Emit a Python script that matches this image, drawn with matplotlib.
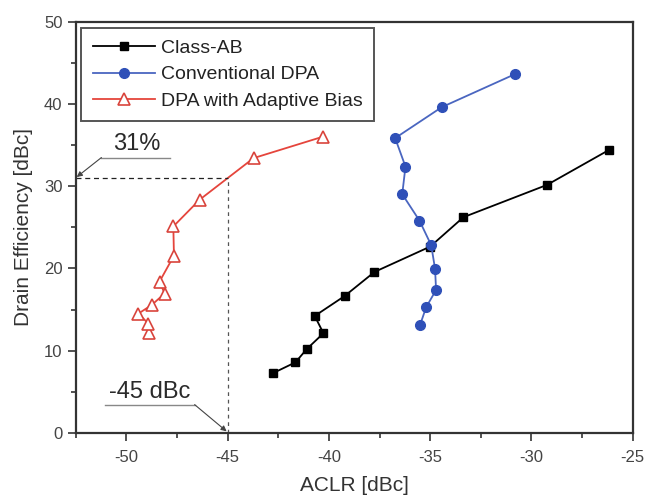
import numpy as np
import matplotlib.pyplot as plt
from matplotlib.ticker import MultipleLocator

plt.rcParams['font.family'] = ['Liberation Sans', 'DejaVu Sans']
plt.rcParams['axes.unicode_minus'] = False

# Class-AB
ab_aclr = [-42.77, -41.65, -41.09, -40.27, -40.70, -39.22, -37.75, -35.0, -33.36, -29.23, -26.19]
ab_eff = [7.26, 8.59, 10.21, 12.12, 14.22, 16.65, 19.57, 22.65, 26.22, 30.15, 34.37]

# Conventional DPA
conv_aclr = [-35.5, -35.2, -34.71, -34.76, -34.95, -35.53, -36.38, -36.22, -36.73, -34.43, -30.81]
conv_eff = [13.13, 15.28, 17.38, 19.94, 22.82, 25.81, 29.02, 32.37, 35.83, 39.59, 43.61]

# DPA with adaptive bias
adb_aclr = [-48.88, -48.91, -49.41, -48.75, -48.11, -48.36, -47.65, -47.68, -46.38, -43.72, -40.3]
adb_eff = [12.1, 13.3, 14.5, 15.55, 16.95, 18.4, 21.55, 25.1, 28.35, 33.4, 36.0]

eff_point = 31
aclr_point = -45

fig = plt.figure(figsize=(6.47, 5.0), dpi=100)
ax = fig.add_axes([0.117, 0.134, 0.861, 0.823])

ax.plot(ab_aclr, ab_eff, '-', color='black', lw=1.3, marker='s', ms=5.5,
        mfc='black', mec='black', label='Class-AB')
ax.plot(conv_aclr, conv_eff, '-', color='#4a66c0', lw=1.3, marker='o', ms=7,
        mfc='#2f50b8', mec='#2f50b8', label='Conventional DPA')
ax.plot(adb_aclr, adb_eff, '-', color='#e5453c', lw=1.3, marker='^', ms=9,
        mfc='white', mec='#d9443c', mew=1.2, label='DPA with Adaptive Bias')

# guide lines
ax.plot([-52.5, aclr_point], [eff_point, eff_point], '--', color='#222222', lw=0.9, dashes=(4, 3))
ax.plot([aclr_point, aclr_point], [0, eff_point], '--', color='#555555', lw=0.9, dashes=(3, 3))

# 31% callout
ax.plot([-51.23, -47.86], [33.47, 33.47], color='#888888', lw=1.0)
ax.annotate('', xy=(-52.45, 31.1), xytext=(-51.23, 33.47),
            arrowprops=dict(arrowstyle='-|>', color='#444444', lw=0.8,
                            mutation_scale=8, shrinkA=0, shrinkB=0))
ax.text(-49.5, 33.8, '31%', fontsize=17, color='#2a2a2a', ha='center', va='bottom')

# -45 dBc callout
ax.plot([-51.07, -46.63], [3.45, 3.45], color='#888888', lw=1.0)
ax.annotate('', xy=(-45.05, 0.2), xytext=(-46.63, 3.45),
            arrowprops=dict(arrowstyle='-|>', color='#444444', lw=0.8,
                            mutation_scale=8, shrinkA=0, shrinkB=0))
ax.text(-48.85, 3.7, '-45 dBc', fontsize=17, color='#2a2a2a', ha='center', va='bottom')

ax.set_xlim(-52.5, -25)
ax.set_ylim(0, 50)
ax.xaxis.set_major_locator(MultipleLocator(5))
ax.xaxis.set_minor_locator(MultipleLocator(2.5))
ax.yaxis.set_major_locator(MultipleLocator(10))
ax.yaxis.set_minor_locator(MultipleLocator(5))
ax.tick_params(which='major', direction='out', length=6, width=1.2,
               colors='#333333', labelsize=12, labelcolor='#444444')
ax.tick_params(axis='x', which='major', pad=6)
ax.tick_params(which='minor', direction='out', length=3.5, width=1.2, colors='#333333')
for s in ax.spines.values():
    s.set_linewidth(1.6)
    s.set_color('#333333')

ax.set_xlabel('ACLR [dBc]', fontsize=15, color='#333333', labelpad=8)
ax.set_ylabel('Drain Efficiency [dBc]', fontsize=15, color='#333333', labelpad=8)

leg = ax.legend(loc='upper left', bbox_to_anchor=(0.01, 0.985), fontsize=14,
                fancybox=False, framealpha=1, edgecolor='#555555',
                borderpad=0.6, labelspacing=0.45, handlelength=3.2,
                handletextpad=0.3, borderaxespad=0)
leg.get_frame().set_linewidth(1.4)
for t in leg.get_texts():
    t.set_color('#222222')

fig.savefig('out.png', dpi=100)
